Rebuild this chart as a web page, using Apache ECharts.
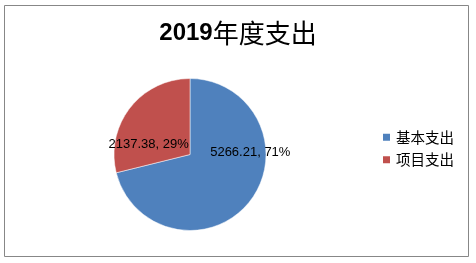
<!DOCTYPE html>
<html><head><meta charset="utf-8">
<script src="https://cdn.jsdelivr.net/npm/echarts@6/dist/echarts.min.js"></script>
<style>html,body{margin:0;padding:0;background:#fff}#c{width:476px;height:263px}</style>
</head><body><div id="c"></div>
<script>
const categories = ['基本支出', '项目支出'];
const values = [5266.21, 2137.38];
const colors = ['#4F81BD', '#C0504D'];
const titleYear = '2019';
const titleRest = '年度支出';
// label nudges relative to the default inside position (Excel-like placement)
const labelShift = [[28, -27], [-9, 15]];

const chart = echarts.init(document.getElementById('c'));
chart.setOption({
  animation: false,
  title: {
    text: '{a|' + titleYear + '}{b|' + titleRest + '}',
    left: 'center', top: 15,
    textStyle: {
      rich: {
        a: {fontFamily: 'Liberation Sans', fontWeight: 'bold', fontSize: 24, color: '#000'},
        b: {fontFamily: 'Noto Sans CJK SC', fontWeight: 'normal', fontSize: 26, color: '#000'}
      }
    }
  },
  graphic: [{
    type: 'rect', silent: true,
    shape: {x: 4.5, y: 5.5, width: 464, height: 251},
    style: {fill: 'none', stroke: '#878787', lineWidth: 1}
  }],
  legend: {
    orient: 'vertical', left: 381, top: 130, padding: 0,
    icon: 'rect', itemWidth: 9, itemHeight: 9, itemGap: 8,
    textStyle: {fontFamily: 'Noto Sans CJK SC', fontSize: 14.5, color: '#000'},
    data: categories
  },
  series: [{
    type: 'pie',
    center: [190, 154.5], radius: 76,
    startAngle: 90, clockwise: true,
    percentPrecision: 0,
    itemStyle: {borderColor: '#ffffff', borderWidth: 0.5},
    label: {
      show: true, position: 'inside',
      formatter: '{c}, {d}%',
      fontFamily: 'Liberation Sans', fontSize: 13, color: '#000'
    },
    labelLayout: function (p) {
      const s = labelShift[p.dataIndex];
      return {dx: s[0], dy: s[1]};
    },
    emphasis: {disabled: true},
    data: categories.map((n, i) => ({name: n, value: values[i], itemStyle: {color: colors[i]}}))
  }]
});
</script></body></html>
